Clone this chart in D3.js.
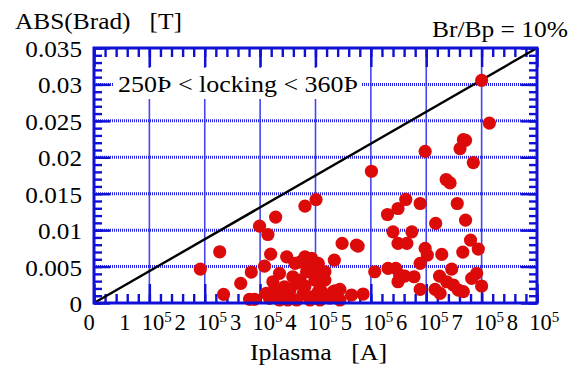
<!DOCTYPE html>
<html>
<head>
<meta charset="utf-8">
<script src="https://cdn.jsdelivr.net/npm/d3@7"></script>
<style>
  body { margin: 0; background: #fff; }
  svg { display: block; font-family: "Liberation Serif", "DejaVu Serif", serif; }
</style>
</head>
<body>
<div id="chart"></div>
<script>
// Iplasma [A] and |Brad| [T]
const iplasma = [
  1.92e5, 2.27e5, 2.34e5, 2.65e5, 2.84e5, 2.99e5, 3.14e5, 3.28e5, 3.81e5, 4.01e5,
  3.19e5, 3.08e5, 3.48e5, 3.63e5, 3.81e5, 3.93e5, 4.05e5, 4.17e5, 3.23e5, 3.35e5,
  3.44e5, 3.66e5, 3.84e5, 3.96e5, 3.78e5, 3.93e5, 4.08e5, 4.17e5, 3.11e5, 3.17e5,
  3.41e5, 3.50e5, 3.66e5, 4.05e5, 4.32e5, 4.44e5, 4.65e5, 4.34e5, 4.48e5, 4.74e5,
  2.81e5, 2.90e5, 3.59e5, 4.86e5, 5.01e5, 5.07e5, 5.31e5, 5.45e5, 5.52e5, 5.61e5,
  5.78e5, 5.49e5, 5.89e5, 5.40e5, 5.74e5, 5.49e5, 5.65e5, 5.30e5, 5.49e5, 5.63e5,
  5.89e5, 5.98e5, 5.98e5, 6.02e5, 6.28e5, 6.17e5, 6.36e5, 6.43e5, 6.56e5, 6.71e5,
  6.80e5, 6.94e5, 6.66e5, 6.46e5, 5.89e5, 6.91e5, 6.82e5, 6.24e5, 6.37e5, 6.49e5,
  6.58e5, 6.67e5, 7.00e5, 6.16e5, 6.25e5, 6.67e5, 6.71e5, 6.61e5, 6.85e5, 7.14e5,
  7.00e5, 4.77e5, 4.35e5, 4.11e5, 4.11e5, 3.72e5, 3.90e5, 3.72e5, 3.99e5, 3.54e5,
  3.81e5, 4.08e5, 4.26e5, 3.90e5, 3.26e5, 3.35e5, 4.44e5
];
const brad = [
  0.00466, 0.00703, 0.00119, 0.0027, 0.00425, 0.01055, 0.0094, 0.01178, 0.01329, 0.0142,
  0.0067, 0.00507, 0.00634, 0.00544, 0.00634, 0.00612, 0.00544, 0.00429, 0.00292, 0.00407,
  0.00223, 0.0027, 0.00429, 0.00407, 0.00133, 0.00086, 0.0027, 0.00315, 0.00133, 0.00064,
  0.00086, 0.00041, 0.00041, 0.00155, 0.00155, 0.00188, 0.0011, 0.00589, 0.00818, 0.00795,
  0.00051, 0.00051, 0.0036, 0.00123, 0.01808, 0.00429, 0.00475, 0.00475, 0.00384, 0.0037,
  0.0036, 0.00292, 0.00188, 0.00977, 0.00977, 0.00818, 0.00818, 0.01215, 0.01297, 0.01421,
  0.01366, 0.02082, 0.00749, 0.00658, 0.00667, 0.01092, 0.01695, 0.01648, 0.01366, 0.01137,
  0.00863, 0.0074, 0.00699, 0.00466, 0.00544, 0.00407, 0.00338, 0.0037, 0.00292, 0.00247,
  0.00178, 0.00155, 0.00233, 0.00188, 0.00133, 0.02242, 0.02233, 0.02119, 0.01927, 0.0247,
  0.03055, 0.00781, 0.00168, 0.00407, 0.00155, 0.00562, 0.0052, 0.00315, 0.00315, 0.00178,
  0.00233, 0.00041, 0.00068, 0.00041, 0.00178, 0.00041, 0.00041
];

const xTicks = [0, 1e5, 2e5, 3e5, 4e5, 5e5, 6e5, 7e5, 8e5];
const yTicks = [0, 0.005, 0.01, 0.015, 0.02, 0.025, 0.03, 0.035];
const yTickLabels = ['0', '0.005', '0.01', '0.015', '0.02', '0.025', '0.03', '0.035'];
const ratioLine = [[0, 0], [8e5, 0.035]];   // Br/Bp = 10%

const width = 577, height = 369;
const margin = { left: 94, right: 40, top: 48, bottom: 66 };
const blue = '#1010d6';
const fs = 22.5;

const svg = d3.select('#chart').append('svg')
    .attr('width', width)
    .attr('height', height);

const x = d3.scaleLinear().domain([0, 8e5]).range([margin.left, width - margin.right]);
const y = d3.scaleLinear().domain([0, 0.035]).range([height - margin.bottom, margin.top]);

const x0 = x.range()[0], x1 = x.range()[1];
const y0 = y.range()[0], y1 = y.range()[1];

// text stretched sideways a little, like the original
function label(px, py, txt, opts = {}) {
    const t = svg.append('text')
        .attr('transform', `translate(${px},${py}) scale(${opts.sx || 1},1)`)
        .attr('font-size', opts.size || fs)
        .attr('text-anchor', opts.anchor || 'start')
        .attr('xml:space', 'preserve')
        .text(txt);
    if (opts.len) t.attr('textLength', opts.len).attr('lengthAdjust', 'spacingAndGlyphs');
    return t;
}

// grid: solid verticals, dotted horizontals
svg.append('g')
    .selectAll('line')
    .data(xTicks.slice(1, -1))
    .join('line')
    .attr('x1', d => x(d)).attr('x2', d => x(d))
    .attr('y1', y1).attr('y2', y0)
    .attr('stroke', '#4646ee')
    .attr('stroke-width', 1.6);

svg.append('g')
    .selectAll('line')
    .data(yTicks.slice(1, -1))
    .join('line')
    .attr('x1', x0).attr('x2', x1)
    .attr('y1', d => y(d)).attr('y2', d => y(d))
    .attr('stroke', '#2424e0')
    .attr('stroke-width', 3)
    .attr('stroke-dasharray', '1 1');

// ticks on all four sides, pointing inward
const xMinor = d3.range(0, 8e5 + 1, 2e4);
const yMinor = d3.range(0, 0.0351, 0.001);

const tickOpts = g => g.call(s => s.select('.domain').remove())
    .call(s => s.selectAll('.tick line').attr('stroke', blue).attr('stroke-width', 2.4));

svg.append('g').attr('transform', `translate(0,${y0})`)
    .call(d3.axisBottom(x).tickValues(xMinor).tickSize(-9).tickFormat(''))
    .call(tickOpts);
svg.append('g').attr('transform', `translate(0,${y0})`)
    .call(d3.axisBottom(x).tickValues(xTicks).tickSize(-19).tickFormat(''))
    .call(tickOpts);
svg.append('g').attr('transform', `translate(0,${y1})`)
    .call(d3.axisTop(x).tickValues(xMinor).tickSize(-9).tickFormat(''))
    .call(tickOpts);
svg.append('g').attr('transform', `translate(0,${y1})`)
    .call(d3.axisTop(x).tickValues(xTicks).tickSize(-19).tickFormat(''))
    .call(tickOpts);
svg.append('g').attr('transform', `translate(${x0},0)`)
    .call(d3.axisLeft(y).tickValues(yMinor).tickSize(-8).tickFormat(''))
    .call(tickOpts);
svg.append('g').attr('transform', `translate(${x0},0)`)
    .call(d3.axisLeft(y).tickValues(yTicks).tickSize(-16).tickFormat(''))
    .call(tickOpts);
svg.append('g').attr('transform', `translate(${x1},0)`)
    .call(d3.axisRight(y).tickValues(yMinor).tickSize(-8).tickFormat(''))
    .call(tickOpts);
svg.append('g').attr('transform', `translate(${x1},0)`)
    .call(d3.axisRight(y).tickValues(yTicks).tickSize(-16).tickFormat(''))
    .call(tickOpts);

// annotation box
svg.append('rect')
    .attr('x', 113).attr('y', 68)
    .attr('width', 248).attr('height', 31)
    .attr('fill', '#fff');
label(118, 92, '250Þ < locking < 360Þ', { len: 240 });

// Br/Bp = 10% line
svg.append('path')
    .attr('d', d3.line().x(d => x(d[0])).y(d => y(d[1]))(ratioLine))
    .attr('stroke', '#000')
    .attr('stroke-width', 2.4)
    .attr('fill', 'none');

// points
svg.append('g')
    .selectAll('circle')
    .data(d3.zip(iplasma, brad))
    .join('circle')
    .attr('cx', d => x(d[0]))
    .attr('cy', d => y(d[1]))
    .attr('r', 6.6)
    .attr('fill', '#dd0a0a');

// frame
svg.append('rect')
    .attr('x', x0).attr('y', y1)
    .attr('width', x1 - x0).attr('height', y0 - y1)
    .attr('fill', 'none')
    .attr('stroke', blue)
    .attr('stroke-width', 3);

// y tick labels
yTicks.forEach((d, i) => label(82, y(d) + 9, yTickLabels[i], { anchor: 'end', sx: 1.12 }));

// x tick labels with superscript exponent
xTicks.forEach(d => {
    if (d === 0) {
        label(x(d) - 5, 330, '0', { anchor: 'middle' });
        return;
    }
    const t = label(x(d) - 4, 330, '', { anchor: 'middle' });
    t.append('tspan').text(`${d / 1e5}  10`);
    t.append('tspan').attr('dy', -8).attr('font-size', 15).text('5');
});

// axis titles
label(15, 29, 'ABS(Brad)   [T]', { len: 167 });
label(432, 37, 'Br/Bp = 10%', { len: 136 });
label(250, 360, 'Iplasma   [A]', { len: 137 });
</script>
</body>
</html>
